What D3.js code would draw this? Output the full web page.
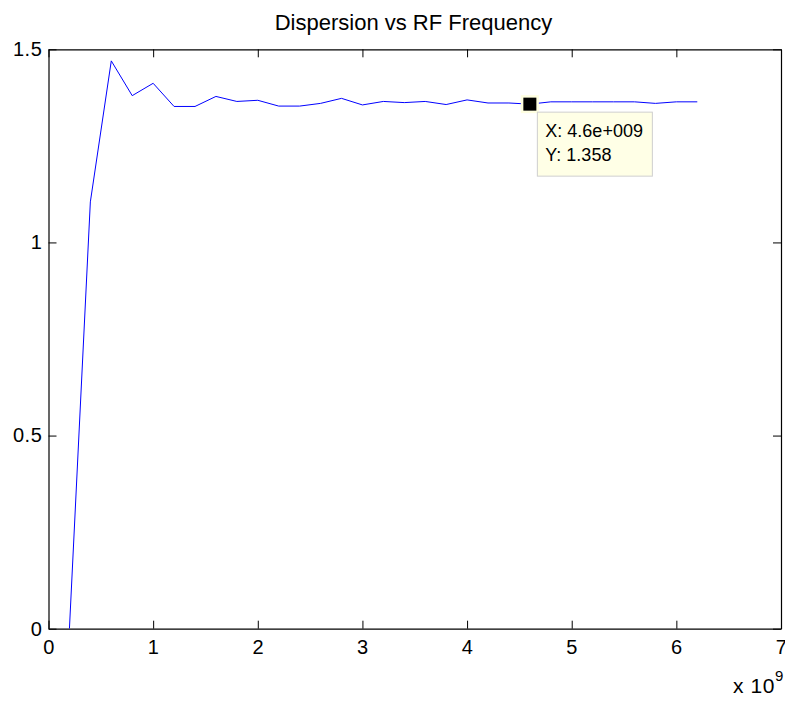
<!DOCTYPE html>
<html>
<head>
<meta charset="utf-8">
<script src="https://cdn.jsdelivr.net/npm/d3@7"></script>
<style>
  html, body { margin: 0; padding: 0; background: #fff; }
  text { font-family: "Liberation Sans", Arial, sans-serif; }
</style>
</head>
<body>
<svg id="chart" width="785" height="701"></svg>
<script>
// ---- data ----
const freqs = [0.2, 0.4, 0.6, 0.8, 1.0, 1.2, 1.4, 1.6, 1.8, 2.0, 2.2, 2.4, 2.6, 2.8, 3.0, 3.2,
               3.4, 3.6, 3.8, 4.0, 4.2, 4.4, 4.6, 4.8, 5.0, 5.2, 5.4, 5.6, 5.8, 6.0, 6.2]; // x 1e9 Hz
const dispersion = [0, 1.105, 1.470, 1.380, 1.412, 1.352, 1.352, 1.378, 1.365, 1.368, 1.353, 1.353,
                    1.360, 1.373, 1.356, 1.365, 1.362, 1.365, 1.357, 1.369, 1.361, 1.361, 1.358,
                    1.364, 1.364, 1.364, 1.364, 1.364, 1.360, 1.364, 1.364];
const xTicks = [0, 1, 2, 3, 4, 5, 6, 7];
const yTicks = [0, 0.5, 1, 1.5];
const tipX = 4.6, tipY = 1.358;
const tipLabels = ["X: 4.6e+009", "Y: 1.358"];

// ---- layout ----
const svg = d3.select("#chart");
const pLeft = 48.5, pRight = 781, pTop = 49.3, pBottom = 628.7;
const x = d3.scaleLinear().domain([0, 7]).range([pLeft, pRight]);
const y = d3.scaleLinear().domain([0, 1.5]).range([pBottom, pTop]);

const tickLen = 8;
const fontSize = 20;

// clip
svg.append("clipPath").attr("id", "clip")
  .append("rect").attr("x", pLeft).attr("y", pTop).attr("width", pRight - pLeft).attr("height", pBottom - pTop);

// axes
const axB = svg.append("g").attr("transform", `translate(0,${pBottom})`)
  .call(d3.axisBottom(x).tickValues(xTicks).tickFormat(d3.format("d")).tickSizeInner(-tickLen).tickSizeOuter(0).tickPadding(11));
const axT = svg.append("g").attr("transform", `translate(0,${pTop})`)
  .call(d3.axisTop(x).tickValues(xTicks).tickFormat("").tickSizeInner(-tickLen).tickSizeOuter(0));
const axL = svg.append("g").attr("transform", `translate(${pLeft},0)`)
  .call(d3.axisLeft(y).tickValues(yTicks).tickFormat(d => String(d)).tickSizeInner(-tickLen).tickSizeOuter(0).tickPadding(6));
const axR = svg.append("g").attr("transform", `translate(${pRight},0)`)
  .call(d3.axisRight(y).tickValues(yTicks).tickFormat("").tickSizeInner(-tickLen).tickSizeOuter(0));

[axB, axT, axL, axR].forEach(g => {
  g.selectAll("path.domain").attr("stroke", "#000").attr("stroke-width", 1.2);
  g.selectAll(".tick line").attr("stroke", "#000").attr("stroke-width", 1);
  g.selectAll(".tick text").attr("fill", "#000").attr("font-size", fontSize)
    .attr("letter-spacing", 0.6)
    .attr("font-family", "'Liberation Sans', Arial, sans-serif");
});

// line
const line = d3.line().x((d, i) => x(freqs[i])).y(d => y(d));
svg.append("path").datum(dispersion)
  .attr("clip-path", "url(#clip)")
  .attr("fill", "none").attr("stroke", "#0000ff").attr("stroke-width", 1)
  .attr("d", line);

// title
svg.append("text").attr("x", 413.5).attr("y", 30)
  .attr("text-anchor", "middle").attr("font-size", 22).attr("fill", "#000")
  .text("Dispersion vs RF Frequency");

// exponent label
const ex = svg.append("text").attr("x", 733).attr("y", 693).attr("font-size", 21)
  .attr("letter-spacing", 0.6).attr("fill", "#000");
ex.append("tspan").text("x 10");
ex.append("tspan").attr("dy", -12).attr("font-size", 15).text("9");

// data tip marker
const mx = x(tipX), my = y(tipY);
svg.append("rect").attr("x", mx - 9).attr("y", my - 9).attr("width", 18).attr("height", 18)
  .attr("fill", "#ffffe1");
svg.append("rect").attr("x", mx - 6.5).attr("y", my - 6.5).attr("width", 13).attr("height", 13)
  .attr("fill", "#000");

// data tip box
const bx = mx + 7.5, by = my + 8;
svg.append("rect").attr("x", bx).attr("y", by).attr("width", 115).attr("height", 64)
  .attr("fill", "#ffffe6").attr("stroke", "#cfcfcf").attr("stroke-width", 1);
tipLabels.forEach((t, i) => {
  svg.append("text").attr("x", bx + 8).attr("y", by + 25 + i * 24)
    .attr("font-size", 18).attr("fill", "#000").text(t);
});
</script>
</body>
</html>
